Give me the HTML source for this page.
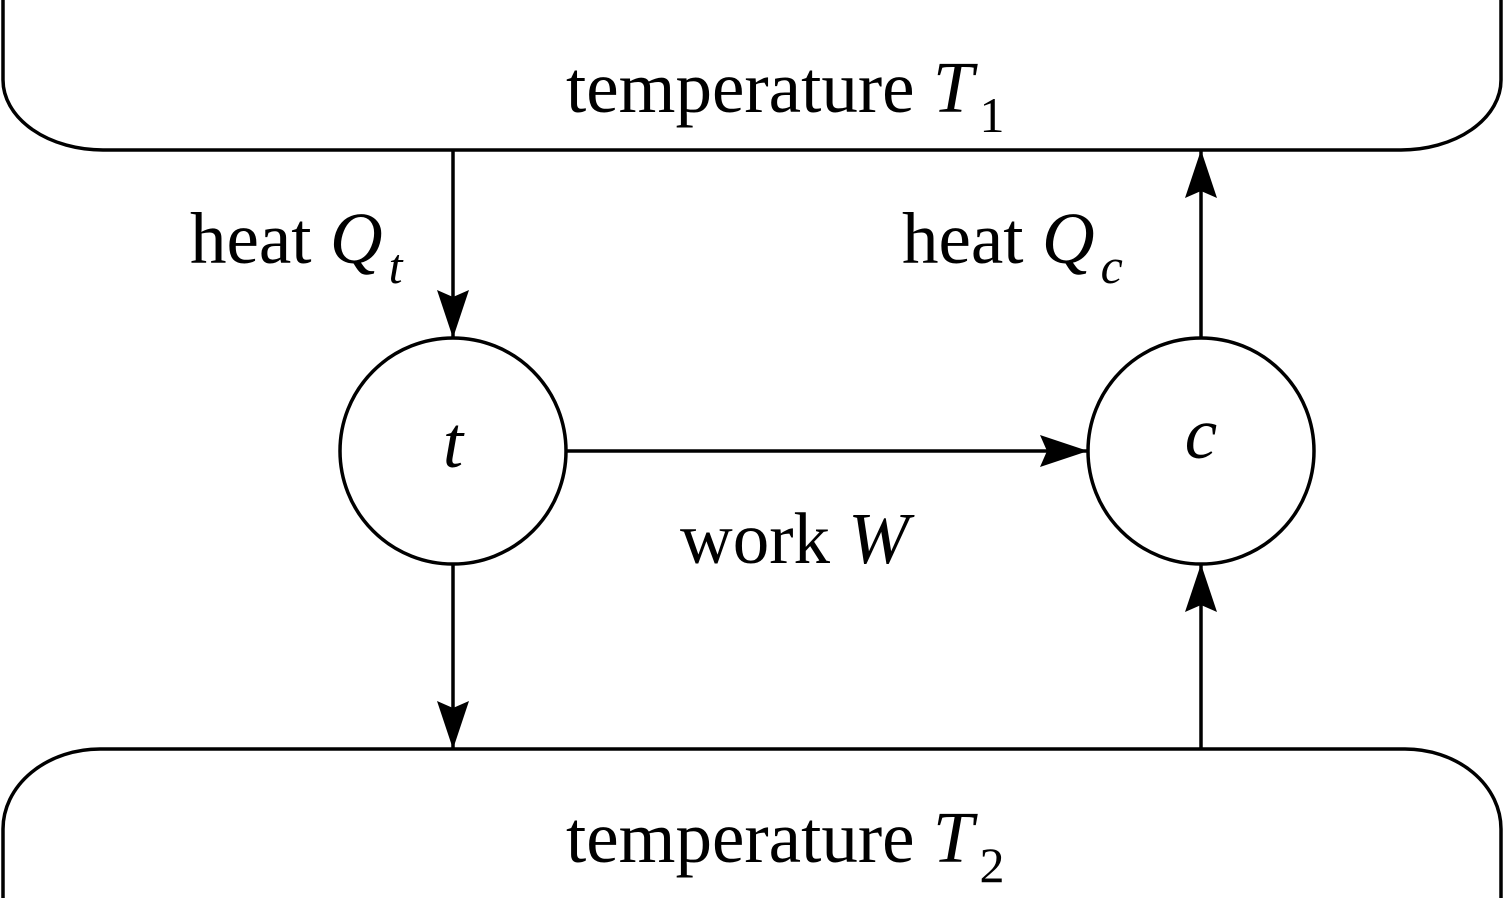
<!DOCTYPE html>
<html><head><meta charset="utf-8"><style>
html,body{margin:0;padding:0;background:#fff;}
svg{display:block;}
text{font-family:"Liberation Serif",serif;fill:#000;}
</style></head><body>
<svg width="1504" height="910" viewBox="0 0 1504 910" xmlns="http://www.w3.org/2000/svg">
<defs>
<marker id="a" markerUnits="userSpaceOnUse" markerWidth="50" markerHeight="40" refX="48" refY="16" orient="auto">
<path d="M48,16 L0,0 L7,16 L0,32 Z" fill="#000"/>
</marker>
</defs>
<g fill="none" stroke="#000" stroke-width="3.5">
<path d="M3,-10 L3,80 A100,70 0 0 0 103,150 L1401,150 A100,70 0 0 0 1501,80 L1501,-10"/>
<path d="M3,898 L3,829 A97,80 0 0 1 100,749 L1405,749 A96,80 0 0 1 1501,829 L1501,898"/>
<circle cx="453" cy="451" r="113"/>
<circle cx="1201" cy="451" r="113"/>
<line x1="453" y1="150" x2="453" y2="338" marker-end="url(#a)"/>
<line x1="453" y1="564" x2="453" y2="749" marker-end="url(#a)"/>
<line x1="1201" y1="749" x2="1201" y2="564" marker-end="url(#a)"/>
<line x1="1201" y1="338" x2="1201" y2="150" marker-end="url(#a)"/>
<line x1="566" y1="451" x2="1088" y2="451" marker-end="url(#a)"/>
</g>
<text x="566" y="112" font-size="73">temperature <tspan font-style="italic">T</tspan><tspan font-size="50" dx="6" dy="20">1</tspan></text>
<text x="566" y="862" font-size="73">temperature <tspan font-style="italic">T</tspan><tspan font-size="50" dx="6" dy="20">2</tspan></text>
<text x="190" y="263" font-size="73">heat <tspan font-style="italic">Q</tspan><tspan font-style="italic" font-size="50" dx="6" dy="20">t</tspan></text>
<text x="902" y="263" font-size="73">heat <tspan font-style="italic">Q</tspan><tspan font-style="italic" font-size="50" dx="6" dy="20">c</tspan></text>
<text x="680" y="563" font-size="73">work <tspan font-style="italic">W</tspan></text>
<text x="453" y="467" font-size="73" font-style="italic" text-anchor="middle">t</text>
<text x="1201" y="458" font-size="73" font-style="italic" text-anchor="middle">c</text>
</svg>
</body></html>
